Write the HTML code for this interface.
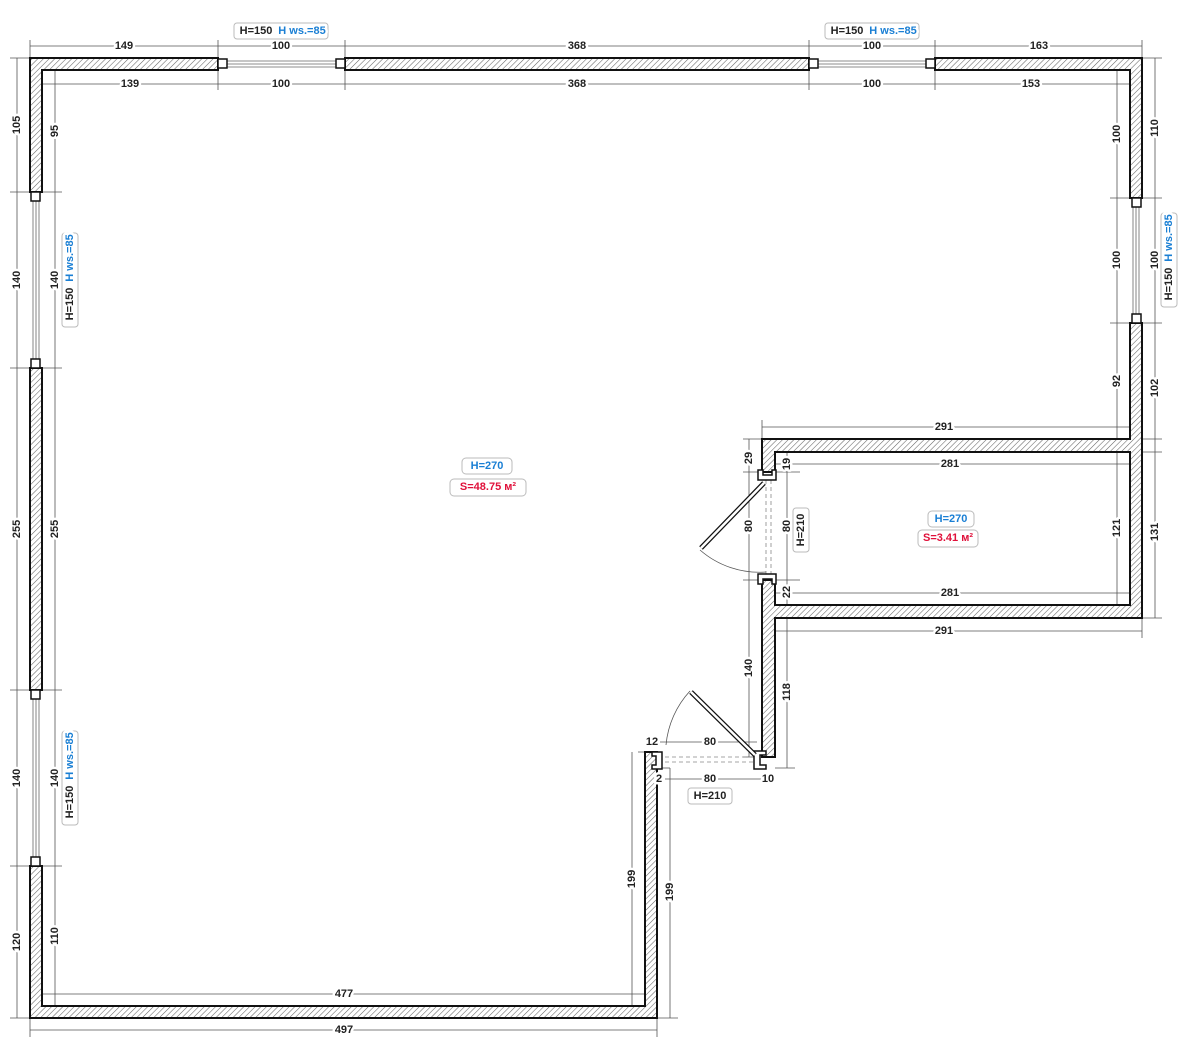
<!DOCTYPE html>
<html><head><meta charset="utf-8"><style>
body{margin:0;background:#fff}
svg{display:block}
text{font-family:"Liberation Sans",Arial,sans-serif;font-size:11px;font-weight:bold;fill:#222;text-anchor:middle;dominant-baseline:central;paint-order:stroke;stroke:#fff;stroke-width:5px;stroke-linejoin:round}
.d{stroke:#555;stroke-width:0.8;fill:none}
.w{fill:url(#h);stroke:#111;stroke-width:2}
.f{fill:#fff;stroke:#111;stroke-width:1.5}
.b{fill:#fff;stroke:#bbb;stroke-width:1}
.bl{fill:#1a7fd4}
.rd{fill:#e0103a}
</style></head><body>
<svg width="1200" height="1051" viewBox="0 0 1200 1051" xmlns="http://www.w3.org/2000/svg">
<defs><pattern id="h" width="4" height="4" patternUnits="userSpaceOnUse" patternTransform="rotate(45)"><rect width="4" height="4" fill="#fff"/><line x1="0" y1="0" x2="0" y2="4" stroke="#666" stroke-width="1.1"/></pattern></defs>

<g class="d">
<line x1="30" y1="46" x2="1142" y2="46"/>
<line x1="30" y1="40" x2="30" y2="64"/><line x1="218" y1="40" x2="218" y2="64"/><line x1="345" y1="40" x2="345" y2="64"/><line x1="809" y1="40" x2="809" y2="64"/><line x1="935" y1="40" x2="935" y2="64"/><line x1="1142" y1="40" x2="1142" y2="64"/>
<line x1="42" y1="84" x2="1130" y2="84"/>
<line x1="42" y1="70" x2="42" y2="90"/><line x1="218" y1="64" x2="218" y2="90"/><line x1="345" y1="64" x2="345" y2="90"/><line x1="809" y1="64" x2="809" y2="90"/><line x1="935" y1="64" x2="935" y2="90"/><line x1="1130" y1="70" x2="1130" y2="90"/>
<line x1="17" y1="58" x2="17" y2="1018"/>
<line x1="55" y1="70" x2="55" y2="1006"/>
<line x1="10" y1="58" x2="36" y2="58"/><line x1="10" y1="192" x2="62" y2="192"/><line x1="10" y1="368" x2="62" y2="368"/><line x1="10" y1="690" x2="62" y2="690"/><line x1="10" y1="866" x2="62" y2="866"/><line x1="10" y1="1018" x2="36" y2="1018"/>
<line x1="42" y1="70" x2="62" y2="70"/><line x1="42" y1="1006" x2="62" y2="1006"/>
<line x1="1155" y1="58" x2="1155" y2="618"/>
<line x1="1117" y1="70" x2="1117" y2="605"/>
<line x1="1136" y1="58" x2="1162" y2="58"/><line x1="1110" y1="198" x2="1162" y2="198"/><line x1="1110" y1="323" x2="1162" y2="323"/><line x1="1110" y1="439" x2="1162" y2="439"/><line x1="1110" y1="452" x2="1162" y2="452"/><line x1="1110" y1="605" x2="1130" y2="605"/><line x1="1136" y1="618" x2="1162" y2="618"/>
<line x1="762" y1="427" x2="1142" y2="427"/><line x1="762" y1="420" x2="762" y2="439"/><line x1="1142" y1="420" x2="1142" y2="439"/>
<line x1="775" y1="464" x2="1130" y2="464"/><line x1="775" y1="593" x2="1130" y2="593"/>
<line x1="775" y1="631" x2="1142" y2="631"/><line x1="775" y1="618" x2="775" y2="638"/><line x1="1142" y1="618" x2="1142" y2="638"/>
<line x1="749" y1="439" x2="749" y2="757"/><line x1="743" y1="439" x2="762" y2="439"/><line x1="743" y1="472" x2="800" y2="472"/><line x1="743" y1="580" x2="800" y2="580"/><line x1="743" y1="757" x2="762" y2="757"/>
<line x1="787" y1="452" x2="787" y2="605"/><line x1="787" y1="618" x2="787" y2="768"/><line x1="775" y1="768" x2="795" y2="768"/>
<line x1="660" y1="742" x2="757" y2="742"/><line x1="665" y1="779" x2="762" y2="779"/>
<line x1="638" y1="752" x2="657" y2="752"/><line x1="657" y1="768" x2="670" y2="768"/>
<line x1="632" y1="752" x2="632" y2="1006"/><line x1="670" y1="768" x2="670" y2="1018"/>
<line x1="625" y1="1006" x2="645" y2="1006"/><line x1="657" y1="1018" x2="678" y2="1018"/>
<line x1="42" y1="994" x2="645" y2="994"/><line x1="42" y1="988" x2="42" y2="1006"/><line x1="645" y1="988" x2="645" y2="1006"/>
<line x1="30" y1="1030" x2="657" y2="1030"/><line x1="30" y1="1018" x2="30" y2="1037"/><line x1="657" y1="1018" x2="657" y2="1037"/>
</g>

<g stroke="#666" stroke-width="0.8" fill="none">
<line x1="218" y1="61" x2="345" y2="61"/><line x1="218" y1="64" x2="345" y2="64"/><line x1="218" y1="67" x2="345" y2="67"/>
<line x1="809" y1="61" x2="935" y2="61"/><line x1="809" y1="64" x2="935" y2="64"/><line x1="809" y1="67" x2="935" y2="67"/>
<line x1="33" y1="192" x2="33" y2="368"/><line x1="36" y1="192" x2="36" y2="368"/><line x1="39" y1="192" x2="39" y2="368"/>
<line x1="33" y1="690" x2="33" y2="866"/><line x1="36" y1="690" x2="36" y2="866"/><line x1="39" y1="690" x2="39" y2="866"/>
<line x1="1133" y1="198" x2="1133" y2="323"/><line x1="1136" y1="198" x2="1136" y2="323"/><line x1="1139" y1="198" x2="1139" y2="323"/>
</g>
<g stroke="#888" stroke-width="0.8" stroke-dasharray="4,3">
<line x1="766" y1="480" x2="766" y2="575"/><line x1="771" y1="480" x2="771" y2="575"/>
<line x1="665" y1="757" x2="755" y2="757"/><line x1="665" y1="762" x2="755" y2="762"/>
</g>

<polygon class="w" points="30,58 218,58 218,70 42,70 42,192 30,192"/>
<rect class="w" x="345" y="58" width="464" height="12"/>
<polygon class="w" points="935,58 1142,58 1142,198 1130,198 1130,70 935,70"/>
<rect class="w" x="30" y="368" width="12" height="322"/>
<polygon class="w" points="1130,323 1142,323 1142,618 775,618 775,757 762,757 762,580 775,580 775,605 1130,605 1130,452 775,452 775,472 762,472 762,439 1130,439"/>
<polygon class="w" points="30,866 42,866 42,1006 645,1006 645,752 657,752 657,1018 30,1018"/>

<rect class="f" x="218" y="59" width="9" height="9"/><rect class="f" x="336" y="59" width="9" height="9"/>
<rect class="f" x="809" y="59" width="9" height="9"/><rect class="f" x="926" y="59" width="9" height="9"/>
<rect class="f" x="31" y="192" width="9" height="9"/><rect class="f" x="31" y="359" width="9" height="9"/>
<rect class="f" x="31" y="690" width="9" height="9"/><rect class="f" x="31" y="857" width="9" height="9"/>
<rect class="f" x="1132" y="198" width="9" height="9"/><rect class="f" x="1132" y="314" width="9" height="9"/>
<path class="f" d="M758,470 V480 H776 V470 H772 V475 H763 V470 Z"/>
<path class="f" d="M758,584 V574 H776 V584 H772 V579 H763 V584 Z"/>
<path class="f" d="M652,752 H662 V769 H652 V765 H656 V756 H652 Z"/>
<path class="f" d="M766,751 H754 V769 H766 V765 H760 V755 H766 Z"/>

<line x1="764" y1="483" x2="701" y2="548" stroke="#111" stroke-width="5"/>
<line x1="764" y1="483" x2="701" y2="548" stroke="#fff" stroke-width="2.5"/>
<path d="M700,550 A90,90 0 0 0 766,572" fill="none" stroke="#555" stroke-width="0.8"/>
<line x1="755" y1="755" x2="691" y2="692" stroke="#111" stroke-width="5"/>
<line x1="755" y1="755" x2="691" y2="692" stroke="#fff" stroke-width="2.5"/>
<path d="M690,691 A92,92 0 0 0 666,745" fill="none" stroke="#555" stroke-width="0.8"/>

<text x="124" y="46">149</text><text x="281" y="46">100</text><text x="577" y="46">368</text><text x="872" y="46">100</text><text x="1039" y="46">163</text>
<text x="130" y="84">139</text><text x="281" y="84">100</text><text x="577" y="84">368</text><text x="872" y="84">100</text><text x="1031" y="84">153</text>
<g>
<text transform="translate(17,125) rotate(-90)">105</text><text transform="translate(17,280) rotate(-90)">140</text><text transform="translate(17,529) rotate(-90)">255</text><text transform="translate(17,778) rotate(-90)">140</text><text transform="translate(17,942) rotate(-90)">120</text>
<text transform="translate(55,131) rotate(-90)">95</text><text transform="translate(55,280) rotate(-90)">140</text><text transform="translate(55,529) rotate(-90)">255</text><text transform="translate(55,778) rotate(-90)">140</text><text transform="translate(55,936) rotate(-90)">110</text>
<text transform="translate(1155,128) rotate(-90)">110</text><text transform="translate(1155,260) rotate(-90)">100</text><text transform="translate(1155,388) rotate(-90)">102</text><text transform="translate(1155,532) rotate(-90)">131</text>
<text transform="translate(1117,134) rotate(-90)">100</text><text transform="translate(1117,260) rotate(-90)">100</text><text transform="translate(1117,381) rotate(-90)">92</text><text transform="translate(1117,528) rotate(-90)">121</text>
<text transform="translate(749,458) rotate(-90)">29</text><text transform="translate(749,526) rotate(-90)">80</text><text transform="translate(749,668) rotate(-90)">140</text>
<text transform="translate(787,464) rotate(-90)">19</text><text transform="translate(787,526) rotate(-90)">80</text><text transform="translate(787,592) rotate(-90)">22</text><text transform="translate(787,692) rotate(-90)">118</text>
<text transform="translate(632,879) rotate(-90)">199</text><text transform="translate(670,892) rotate(-90)">199</text>
</g>
<text x="944" y="427">291</text><text x="950" y="464">281</text><text x="950" y="593">281</text><text x="944" y="631">291</text>
<text x="652" y="742">12</text><text x="710" y="742">80</text><text x="659" y="779">2</text><text x="710" y="779">80</text><text x="768" y="779">10</text>
<text x="344" y="994">477</text><text x="344" y="1030">497</text>

<rect class="b" x="234" y="23" width="94" height="16" rx="3"/><text x="256" y="31">H=150</text><text x="302" y="31" class="bl">H ws.=85</text>
<rect class="b" x="825" y="23" width="94" height="16" rx="3"/><text x="847" y="31">H=150</text><text x="893" y="31" class="bl">H ws.=85</text>
<g transform="translate(70,280) rotate(-90)"><rect class="b" x="-47" y="-8" width="94" height="16" rx="3"/><text x="-24" y="0">H=150</text><text x="22" y="0" class="bl">H ws.=85</text></g>
<g transform="translate(70,778) rotate(-90)"><rect class="b" x="-47" y="-8" width="94" height="16" rx="3"/><text x="-24" y="0">H=150</text><text x="22" y="0" class="bl">H ws.=85</text></g>
<g transform="translate(1169,260) rotate(-90)"><rect class="b" x="-47" y="-8" width="94" height="16" rx="3"/><text x="-24" y="0">H=150</text><text x="22" y="0" class="bl">H ws.=85</text></g>
<g transform="translate(801,530) rotate(-90)"><rect class="b" x="-22" y="-8" width="44" height="16" rx="3"/><text x="0" y="0">H=210</text></g>
<rect class="b" x="688" y="788" width="44" height="16" rx="3"/><text x="710" y="796">H=210</text>
<rect class="b" x="462" y="458" width="50" height="16" rx="4"/><text x="487" y="466" class="bl">H=270</text>
<rect class="b" x="450" y="479" width="76" height="17" rx="4"/><text x="488" y="487" class="rd">S=48.75 м²</text>
<rect class="b" x="928" y="511" width="46" height="16" rx="4"/><text x="951" y="519" class="bl">H=270</text>
<rect class="b" x="918" y="530" width="60" height="17" rx="4"/><text x="948" y="538" class="rd">S=3.41 м²</text>
</svg>
</body></html>
